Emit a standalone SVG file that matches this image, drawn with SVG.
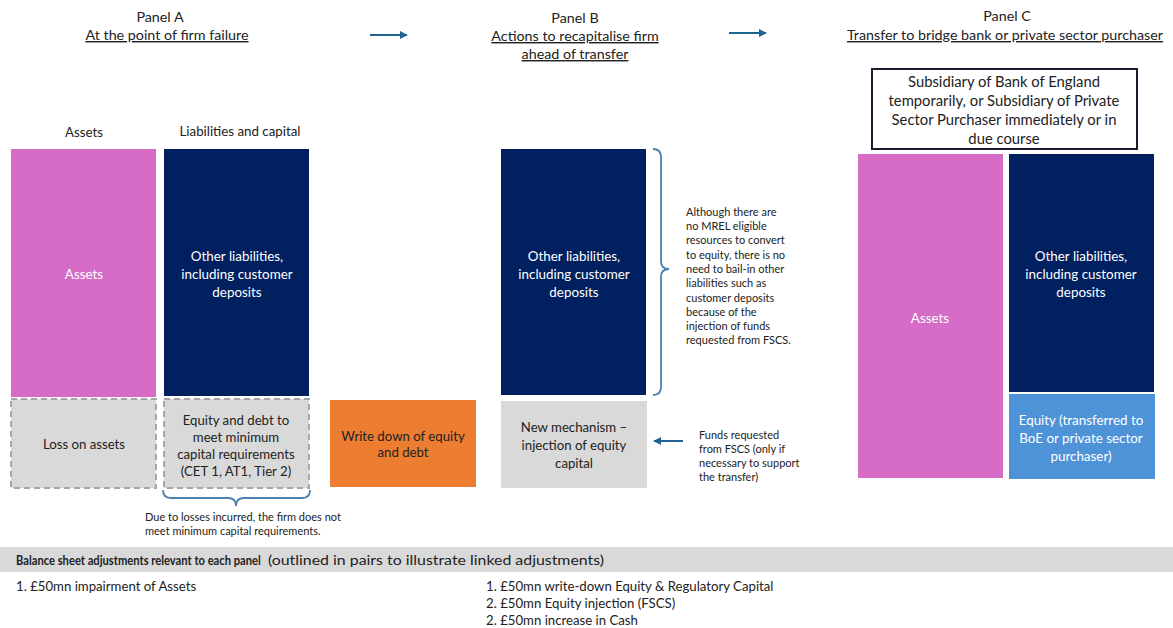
<svg xmlns="http://www.w3.org/2000/svg" width="1173" height="628" viewBox="0 0 1173 628">
  <defs>
    <style>
      text { font-family: Lato, "Open Sans", "Liberation Sans", sans-serif; }
      .head { font-size: 14.3px; fill: #222; text-anchor: middle; }
      .ul { text-decoration: underline; }
      .lbl { font-size: 13.3px; fill: #222; text-anchor: middle; }
      .wt { font-size: 13.4px; fill: #fff; text-anchor: middle; }
      .dk { font-size: 13.2px; fill: #222; text-anchor: middle; }
      .box { font-size: 14.8px; fill: #222; text-anchor: middle; }
      .note { font-size: 11px; fill: #222; }
      .foot { font-size: 13.2px; fill: #222; }
      .pink { fill: #d66bc8; }
      .navy { fill: #002060; }
      .grey { fill: #d9d9d9; }
      .dash { fill: #d9d9d9; stroke: #a6a6a6; stroke-width: 2; stroke-dasharray: 6 4; }
      .conn { stroke: #1f6391; stroke-width: 2; fill: none; }
      .brace { stroke: #4a7fae; stroke-width: 1.8; fill: none; }
    </style>
    <marker id="ah" viewBox="0 0 10 10" refX="9" refY="5" markerWidth="4" markerHeight="4" orient="auto">
      <path d="M0,0 L10,5 L0,10 z" fill="#1f6391"/>
    </marker>
  </defs>

  <rect width="1173" height="628" fill="#fff"/>

  <!-- Panel headings -->
  <g id="panel-a-head">
    <text class="head" x="160" y="22">Panel A</text>
    <text class="head ul" x="167" y="40">At the point of firm failure</text>
  </g>
  <g id="panel-b-head">
    <text class="head" x="575" y="23">Panel B</text>
    <text class="head ul" x="575" y="41">Actions to recapitalise firm</text>
    <text class="head ul" x="575" y="59">ahead of transfer</text>
  </g>
  <g id="panel-c-head">
    <text class="head" x="1007" y="21">Panel C</text>
    <text class="head ul" x="1005" y="40">Transfer to bridge bank or private sector purchaser</text>
  </g>

  <!-- Connectors -->
  <g id="connectors">
    <line class="conn" x1="370" y1="35" x2="407" y2="35" marker-end="url(#ah)"/>
    <line class="conn" x1="729" y1="33" x2="766" y2="33" marker-end="url(#ah)"/>
    <line class="conn" x1="683" y1="441" x2="654" y2="441" marker-end="url(#ah)"/>
    <path class="brace" d="M163,490 q0,8 8,8 h57 q8,0 8,8 q0,-8 8,-8 h58 q8,0 8,-8"/>
    <path class="brace" d="M653,149 q8,0 8,8 v104 q0,8 8,8 q-8,0 -8,8 v110 q0,8 -8,8"/>
  </g>

  <!-- Panel A -->
  <g id="col-labels-a">
    <text class="lbl" x="84" y="137">Assets</text>
    <text class="lbl" x="240" y="136">Liabilities and capital</text>
  </g>
  <g id="a-assets">
    <rect class="pink" x="11" y="149" width="145" height="248"/>
    <text class="wt" x="84" y="279">Assets</text>
  </g>
  <g id="a-liabilities">
    <rect class="navy" x="164" y="149" width="145" height="247"/>
    <text class="wt" x="237" y="261">Other liabilities,</text>
    <text class="wt" x="237" y="279">including customer</text>
    <text class="wt" x="237" y="297">deposits</text>
  </g>
  <g id="a-loss">
    <rect class="dash" x="11" y="399" width="145" height="89"/>
    <text class="dk" x="84" y="449">Loss on assets</text>
  </g>
  <g id="a-capital">
    <rect class="dash" x="164" y="399" width="145" height="89"/>
    <text class="dk" x="236" y="425">Equity and debt to</text>
    <text class="dk" x="236" y="442">meet minimum</text>
    <text class="dk" x="236" y="459">capital requirements</text>
    <text class="dk" x="236" y="476">(CET 1, AT1, Tier 2)</text>
  </g>
  <g id="a-note">
    <text class="note" x="145" y="521">Due to losses incurred, the firm does not</text>
    <text class="note" x="145" y="535">meet minimum capital requirements.</text>
  </g>

  <!-- Write-down -->
  <g id="write-down">
    <rect x="330" y="400" width="146" height="87" fill="#ed7d31"/>
    <text class="dk" x="403" y="441">Write down of equity</text>
    <text class="dk" x="403" y="457">and debt</text>
  </g>

  <!-- Panel B -->
  <g id="b-liabilities">
    <rect class="navy" x="501" y="149" width="145" height="246"/>
    <text class="wt" x="574" y="261">Other liabilities,</text>
    <text class="wt" x="574" y="279">including customer</text>
    <text class="wt" x="574" y="297">deposits</text>
  </g>
  <g id="b-injection">
    <rect class="grey" x="501" y="401" width="146" height="87"/>
    <text class="dk" x="574" y="432">New mechanism –</text>
    <text class="dk" x="574" y="450">injection of equity</text>
    <text class="dk" x="574" y="468">capital</text>
  </g>
  <g id="b-note">
    <text class="note" x="686" y="216">Although there are</text>
    <text class="note" x="686" y="230">no MREL eligible</text>
    <text class="note" x="686" y="244">resources to convert</text>
    <text class="note" x="686" y="259">to equity, there is no</text>
    <text class="note" x="686" y="273">need to bail-in other</text>
    <text class="note" x="686" y="287">liabilities such as</text>
    <text class="note" x="686" y="302">customer deposits</text>
    <text class="note" x="686" y="316">because of the</text>
    <text class="note" x="686" y="330">injection of funds</text>
    <text class="note" x="686" y="344">requested from FSCS.</text>
  </g>
  <g id="b-funds">
    <text class="note" x="699" y="439">Funds requested</text>
    <text class="note" x="699" y="453">from FSCS (only if</text>
    <text class="note" x="699" y="467">necessary to support</text>
    <text class="note" x="699" y="481">the transfer)</text>
  </g>

  <!-- Panel C -->
  <g id="c-owner">
    <rect x="872" y="69" width="265" height="80" fill="#fff" stroke="#1a1a2e" stroke-width="2"/>
    <text class="box" x="1004" y="87">Subsidiary of Bank of England</text>
    <text class="box" x="1004" y="106">temporarily, or Subsidiary of Private</text>
    <text class="box" x="1004" y="125">Sector Purchaser immediately or in</text>
    <text class="box" x="1004" y="144">due course</text>
  </g>
  <g id="c-assets">
    <rect class="pink" x="858" y="154" width="145" height="324"/>
    <text class="wt" x="930" y="323">Assets</text>
  </g>
  <g id="c-liabilities">
    <rect class="navy" x="1009" y="154" width="145" height="238"/>
    <text class="wt" x="1081" y="261">Other liabilities,</text>
    <text class="wt" x="1081" y="279">including customer</text>
    <text class="wt" x="1081" y="297">deposits</text>
  </g>
  <g id="c-equity">
    <rect x="1009" y="394" width="146" height="85" fill="#4e92d8"/>
    <text class="wt" x="1081" y="425">Equity (transferred to</text>
    <text class="wt" x="1081" y="443">BoE or private sector</text>
    <text class="wt" x="1081" y="461">purchaser)</text>
  </g>

  <!-- Adjustments table -->
  <g id="adjustments">
    <rect x="0" y="547" width="1173" height="25" fill="#d9d9d9"/>
    <!-- bold caption drawn condensed -->
    <text class="foot" transform="translate(16,565) scale(0.8,1)" font-size="13" font-weight="bold" textLength="306" lengthAdjust="spacingAndGlyphs">Balance sheet adjustments relevant to each panel</text>
    <text class="foot" x="268" y="565" font-size="13" textLength="336" lengthAdjust="spacingAndGlyphs">(outlined in pairs to illustrate linked adjustments)</text>
    <text class="foot" x="16" y="591">1. £50mn impairment of Assets</text>
    <text class="foot" x="486" y="591">1. £50mn write-down Equity &amp; Regulatory Capital</text>
    <text class="foot" x="486" y="608">2. £50mn Equity injection (FSCS)</text>
    <text class="foot" x="486" y="625">2. £50mn increase in Cash</text>
  </g>
</svg>
